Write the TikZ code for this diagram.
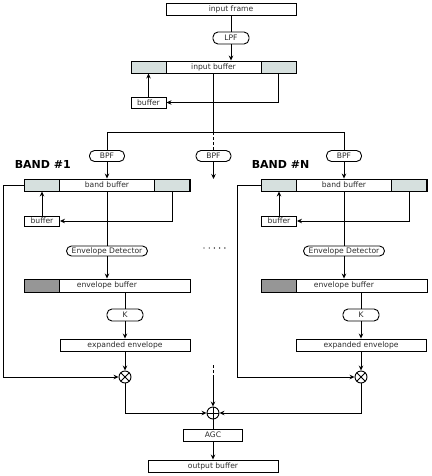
\documentclass[tikz,border=0pt]{standalone}
\usepackage{fontspec}
\setmainfont{DejaVu Sans}
\usetikzlibrary{arrows.meta}
\definecolor{lgray}{RGB}{214,224,222}
\definecolor{dgray}{RGB}{150,150,150}
\definecolor{txt}{RGB}{45,45,45}
\begin{document}
\begin{tikzpicture}[x=1pt,y=-1pt,line width=0.9pt,
  lbl/.style={font=\fontsize{7.6}{8}\selectfont,text=txt},
  box/.style={draw,rectangle,inner sep=0pt,minimum height=12pt,lbl},
  pill/.style={draw,rectangle,rounded corners=5pt,inner sep=0pt,minimum height=11pt,lbl},
  cell/.style={draw,rectangle,inner sep=0pt,minimum height=12pt,minimum width=35pt},
  arr/.style={-{Stealth[length=5pt,width=4.5pt]}},
  dsh/.style={dash pattern=on 3pt off 2pt},
  mul/.style={draw,circle,minimum size=12pt,inner sep=0pt,fill=white,
    path picture={\draw[line width=0.9pt] (path picture bounding box.north west) -- (path picture bounding box.south east)
      (path picture bounding box.north east) -- (path picture bounding box.south west);}},
  sum/.style={draw,circle,minimum size=12pt,inner sep=0pt,fill=white,
    path picture={\draw[line width=0.9pt] (path picture bounding box.north) -- (path picture bounding box.south)
      (path picture bounding box.east) -- (path picture bounding box.west);}},
  bandlbl/.style={anchor=west,font=\bfseries\fontsize{11}{12}\selectfont}
]
\useasboundingbox[fill=white] (0,0) rectangle (431,476);

% top
\node[box,minimum width=130pt] (inframe) at (231,9) {input frame};
\node[pill,minimum width=36pt,minimum height=12pt] (lpf) at (231,38) {LPF};
\node[box,minimum width=165pt] (inbuf) at (213.5,67) {input buffer};
\node[cell,fill=lgray] (inbufL) at (148.5,67) {};
\node[cell,fill=lgray] (inbufR) at (278.5,67) {};
\node[box,minimum width=35pt,minimum height=11pt] (buf0) at (148.5,102.5) {buffer};

\draw (inframe.south -| lpf) -- (lpf.north);
\draw[arr] (lpf.south) -- (lpf.south |- inbuf.north);
\draw[arr] (inbufR.south) |- (buf0.east);
\draw[arr] (buf0.north) -- (inbufL.south);

\coordinate (split) at (213,132);
\coordinate (splitL) at (107,132);
\coordinate (splitR) at (344,132);
\draw (inbuf.south -| split) -- (split);

% BPFs
\node[pill,minimum width=35pt] (bpf1) at (107,156) {BPF};
\node[pill,minimum width=35pt] (bpfm) at (213.5,156) {BPF};
\node[pill,minimum width=35pt] (bpfN) at (344,156) {BPF};
\draw (bpf1.north) -- (splitL) -- (splitR) -- (bpfN.north);
\draw[dsh] (split) -- (bpfm.north -| split);
\coordinate (mend) at (213.5,179);
\draw[arr] (bpfm.south) -- (mend);

\node[bandlbl] (lab1) at (11,164) {BAND \#1};
\node[bandlbl] (labN) at (248,164) {BAND \#N};

% band 1
\node[box,minimum width=166pt] (bb1) at (107,185) {band buffer};
\node[cell,fill=lgray] (bb1L) at (42,185) {};
\node[cell,fill=lgray] (bb1R) at (172,185) {};
\node[box,minimum width=35pt,minimum height=10pt] (buf1) at (42,221) {buffer};
\node[pill,minimum width=81pt,minimum height=10pt] (ed1) at (107,251) {Envelope Detector};
\node[box,minimum width=166pt,minimum height=13pt] (eb1) at (107,285.5) {envelope buffer};
\node[cell,fill=dgray,minimum height=13pt] (eb1L) at (42,285.5) {};
\node[pill,minimum width=36pt,minimum height=12pt] (k1) at (125,315) {K};
\node[box,minimum width=130pt] (ex1) at (125,345) {expanded envelope};
\node[mul] (mul1) at (125,377) {};

\draw[arr] (bpf1.south) -- (bb1.north);
\draw[arr] (bb1R.south) |- (buf1.east);
\draw[arr] (buf1.north) -- (bb1L.south);
\draw (bb1.south) -- (ed1.north);
\draw[arr] (ed1.south) -- (eb1.north);
\draw (eb1.south -| k1) -- (k1.north);
\draw[arr] (k1.south) -- (ex1.north);
\draw[arr] (ex1.south) -- (mul1.north);
\draw[arr] (bb1L.west) -- ++(-21,0) |- (mul1.west);

% band N
\node[box,minimum width=166pt] (bbN) at (344,185) {band buffer};
\node[cell,fill=lgray] (bbNL) at (279,185) {};
\node[cell,fill=lgray] (bbNR) at (409,185) {};
\node[box,minimum width=35pt,minimum height=10pt] (bufN) at (279,221) {buffer};
\node[pill,minimum width=81pt,minimum height=10pt] (edN) at (344,251) {Envelope Detector};
\node[box,minimum width=166pt,minimum height=13pt] (ebN) at (344,285.5) {envelope buffer};
\node[cell,fill=dgray,minimum height=13pt] (ebNL) at (279,285.5) {};
\node[pill,minimum width=36pt,minimum height=12pt] (kN) at (361,315) {K};
\node[box,minimum width=130pt] (exN) at (361,345) {expanded envelope};
\node[mul] (mulN) at (361,377) {};

\draw[arr] (bpfN.south) -- (bbN.north);
\draw[arr] (bbNR.south) |- (bufN.east);
\draw[arr] (bufN.north) -- (bbNL.south);
\draw (bbN.south) -- (edN.north);
\draw[arr] (edN.south) -- (ebN.north);
\draw (ebN.south -| kN) -- (kN.north);
\draw[arr] (kN.south) -- (exN.north);
\draw[arr] (exN.south) -- (mulN.north);
\draw[arr] (bbNL.west) -- ++(-24,0) |- (mulN.west);

% dots
\foreach \i in {0,...,4} \fill (204+5.2*\i,248) circle (0.7pt);

% bottom
\node[sum] (sum) at (213,413) {};
\node[box,minimum width=59pt] (agc) at (213,435) {AGC};
\node[box,minimum width=130pt] (out) at (213,466) {output buffer};
\coordinate (dtop) at (213,365);
\coordinate (dmid) at (213,377);
\draw[dsh] (dtop) -- (dmid);
\draw[arr] (dmid) -- (sum.north);
\draw[arr] (mul1.south) |- (sum.west);
\draw[arr] (mulN.south) |- (sum.east);
\draw (sum.south) -- (agc.north);
\draw[arr] (agc.south) -- (out.north);
\end{tikzpicture}
\end{document}
